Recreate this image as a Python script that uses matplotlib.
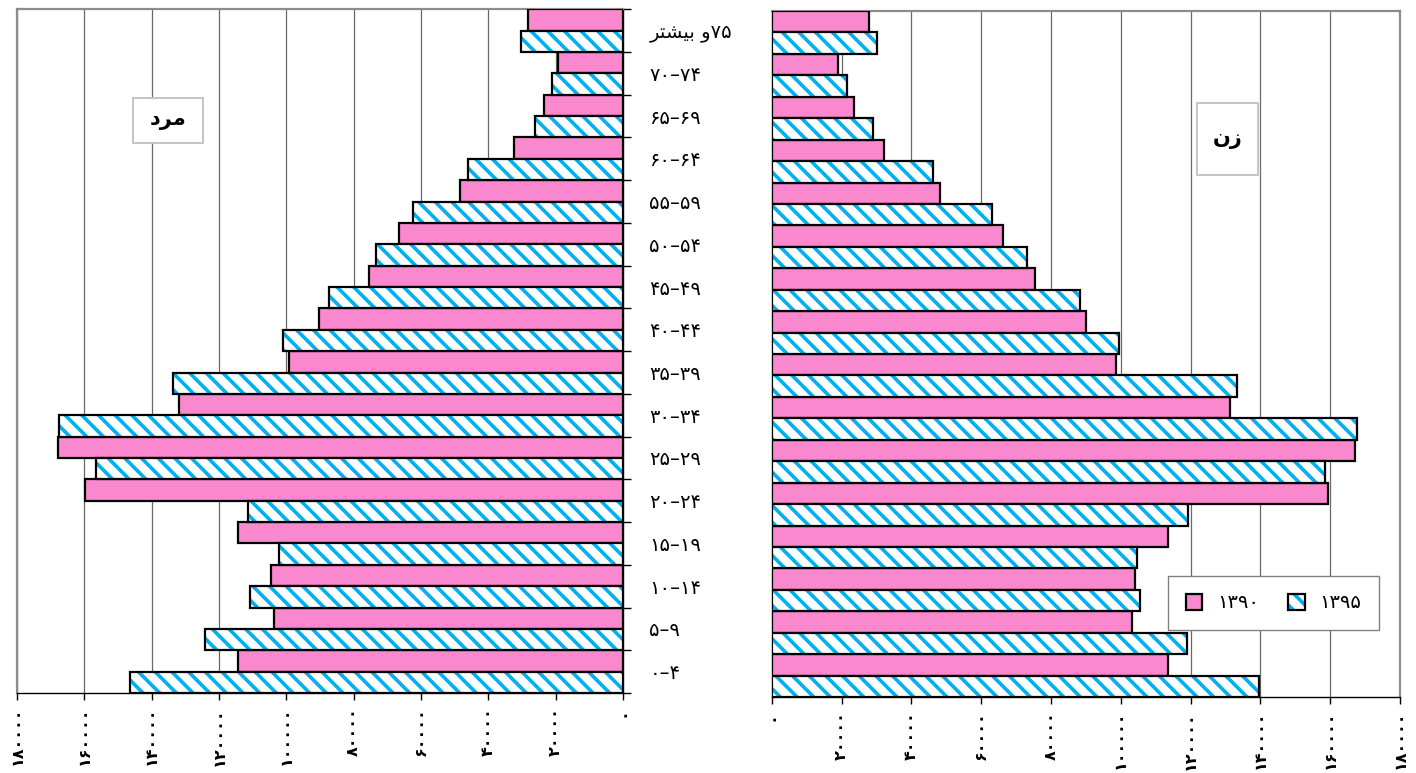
import numpy as np
import matplotlib
matplotlib.use('Agg')
import matplotlib.pyplot as plt
from matplotlib.patches import Patch, Rectangle

plt.rcParams['font.family'] = ['DejaVu Sans']
plt.rcParams['hatch.linewidth'] = 2.6

W, H = 1416, 773
pink = '#FA88CE'
blue = '#00B0F0'

fa = str.maketrans('0123456789', '۰۱۲۳۴۵۶۷۸۹')

# age groups, bottom to top (text in visual order, Arabic presentation forms)
age_labels = ['۰–۴', '۵–۹', '۱۰–۱۴', '۱۵–۱۹', '۲۰–۲۴', '۲۵–۲۹', '۳۰–۳۴', '۳۵–۳۹',
              '۴۰–۴۴', '۴۵–۴۹', '۵۰–۵۴', '۵۵–۵۹', '۶۰–۶۴', '۶۵–۶۹', '۷۰–۷۴',
              '\uFEAE\uFE98\uFEB8\uFEF4\uFE91 \uFEED۷۵']

men_1390 = [114300, 103700, 104500, 114300, 159800, 167800, 131900, 99200,
            90300, 75400, 66500, 48400, 32400, 23500, 19300, 28200]
men_1395 = [146400, 124100, 110800, 102200, 111400, 156500, 167500, 133600,
            101000, 87300, 73400, 62400, 46000, 26100, 21100, 30300]
women_1390 = [113600, 103300, 104200, 113600, 159400, 167100, 131400, 98700,
              89900, 75300, 66400, 48100, 32100, 23500, 18900, 27800]
women_1395 = [139700, 119100, 105600, 104700, 119300, 158600, 167700, 133400,
              99600, 88400, 73000, 63000, 46100, 28900, 21500, 30100]

xticks = list(range(0, 180001, 20000))
xtick_labels = [str(t).translate(fa) for t in xticks]


def px(x, y):
    return x / W, 1 - y / H


def draw(ax, v90, v95):
    y = np.arange(len(age_labels))
    ax.barh(y + 0.25, v90, height=0.5, color=pink, edgecolor='black', linewidth=1.6, zorder=3)
    ax.barh(y - 0.25, v95, height=0.5, color='white', edgecolor=blue, hatch='\\\\',
            linewidth=0, zorder=3)
    ax.barh(y - 0.25, v95, height=0.5, fill=False, edgecolor='black', linewidth=1.6, zorder=4)
    ax.set_ylim(-0.5, len(age_labels) - 0.5)
    ax.set_xticks(xticks)
    ax.set_xticklabels(xtick_labels, rotation=90, fontsize=11.5, fontweight='bold')
    ax.tick_params(axis='x', direction='out', length=5, width=1, pad=5, colors='black')
    ax.xaxis.grid(True, color='#686868', linewidth=0.9)
    ax.set_axisbelow(True)
    for s in ax.spines.values():
        s.set_color('#8c8c8c')
        s.set_linewidth(1.6)
    ax.spines['bottom'].set_color('black')
    ax.spines['bottom'].set_linewidth(1.0)


fig = plt.figure(figsize=(W / 100, H / 100), dpi=100)

# men
ax1 = fig.add_axes([17 / W, 1 - 693 / H, (623 - 17) / W, (693 - 9.3) / H])
draw(ax1, men_1390, men_1395)
ax1.set_xlim(180000, 0)
ax1.spines['right'].set_color('black')
ax1.spines['right'].set_linewidth(1.0)
ax1.yaxis.tick_right()
ax1.set_yticks(np.arange(-0.5, len(age_labels), 1))
ax1.set_yticklabels([])
ax1.set_yticks(np.arange(len(age_labels)), minor=True)
ax1.set_yticklabels(age_labels, minor=True)
ax1.tick_params(axis='y', which='major', direction='out', length=6, width=1)
ax1.tick_params(axis='y', which='minor', length=0, pad=19, labelsize=14)

# women
ax2 = fig.add_axes([771.7 / W, 1 - 697 / H, (1400 - 771.7) / W, (697 - 11) / H])
draw(ax2, women_1390, women_1395)
ax2.set_xlim(0, 180000)
ax2.spines['left'].set_color('black')
ax2.spines['left'].set_linewidth(1.0)
ax2.set_yticks([])

# titles in boxes
for (x0, y0, x1, y1), txt in [((133, 98, 203, 143), '\uFEA9\uFEAE\uFEE3'),
                              ((1197, 103, 1258, 175), '\uFEE5\uFEAF')]:
    fig.patches.append(Rectangle(px(x0, y1), (x1 - x0) / W, (y1 - y0) / H,
                                 transform=fig.transFigure, facecolor='white',
                                 edgecolor='#c0c0c0', linewidth=1.3, zorder=5))
    cx, cy = px((x0 + x1) / 2, (y0 + y1) / 2)
    fig.text(cx, cy, txt, ha='center', va='center', fontsize=15, fontweight='bold', zorder=6)

h90 = Patch(facecolor=pink, edgecolor='black', linewidth=1.6)
h95 = (Patch(facecolor='white', edgecolor=blue, hatch='\\\\', linewidth=0),
       Patch(fill=False, edgecolor='black', linewidth=1.6))
fig.legend([h90, h95], ['۱۳۹۰', '۱۳۹۵'], loc='center', bbox_to_anchor=px(1273.5, 603),
           ncol=2, fontsize=14, handlelength=0.85, handleheight=0.85, columnspacing=1.5,
           handletextpad=0.75, fancybox=False, edgecolor='#808080', framealpha=1,
           borderpad=0.9)

fig.savefig('out.png', dpi=100)
